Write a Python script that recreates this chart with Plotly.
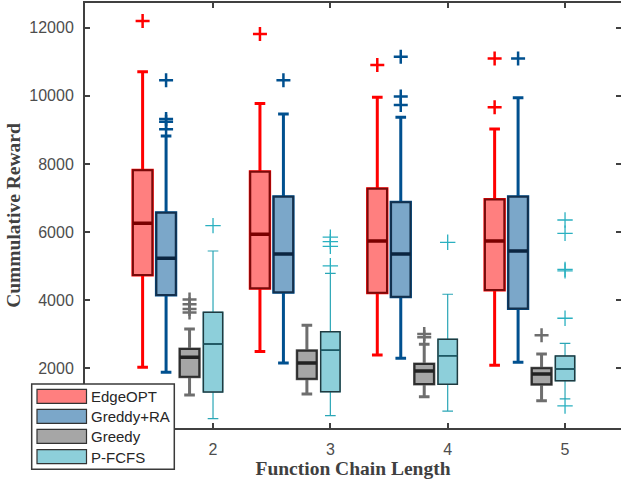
import plotly.graph_objects as go

# ---------------- data ----------------
chain_lengths = [2, 3, 4, 5]
series_names = ["EdgeOPT", "Greddy+RA", "Greedy", "P-FCFS"]
y_ticks = [2000, 4000, 6000, 8000, 10000, 12000]

edgeopt_low = [2030, 2490, 2390, 2090]
edgeopt_q1 = [4740, 4350, 4220, 4300]
edgeopt_med = [6260, 5940, 5740, 5740]
edgeopt_q3 = [7820, 7770, 7275, 6960]
edgeopt_high = [10710, 9780, 9960, 9030]
edgeopt_out = [[12200], [11820], [10910], [11100, 9665]]

ra_low = [1885, 2155, 2295, 2175]
ra_q1 = [4150, 4230, 4100, 3760]
ra_med = [5230, 5355, 5355, 5445]
ra_q3 = [6570, 7040, 6875, 7040]
ra_high = [8820, 9470, 9370, 9945]
ra_out = [[10460, 9320, 9240, 9020], [10460], [11150, 9980, 9730], [11100]]

greedy_low = [1215, 1245, 1165, 1050]
greedy_q1 = [1755, 1695, 1540, 1530]
greedy_med = [2325, 2155, 1920, 1835]
greedy_q3 = [2565, 2515, 2125, 2000]
greedy_high = [3155, 3265, 2705, 2420]
greedy_out = [[4020, 3880, 3740, 3640], [], [3005, 2915], [2970]]

pfcfs_low = [520, 610, 745, 1100]
pfcfs_q1 = [1305, 1315, 1530, 1635]
pfcfs_med = [2715, 2530, 2370, 1980]
pfcfs_q3 = [3645, 3075, 2850, 2360]
pfcfs_high = [5445, 4790, 4175, 2735]
pfcfs_out = [[6190], [5850, 5720, 5580, 5010], [5700], [6355, 5965, 4905, 4860, 3470, 895]]

offsets = [-0.6, -0.4, -0.2, 0.0]

# ---------------- styles ----------------
styles = [
    dict(fill="#FF7F7F", outline="#7A0A0A", whisker="#FF0000", median="#7A0000", wl=3, ol=2, ml=3.5, out="#FF0000", ow=2.5, osz=10),
    dict(fill="#7BA7C9", outline="#13304D", whisker="#00508F", median="#0B2540", wl=3, ol=2, ml=3.5, out="#00508F", ow=2.5, osz=10),
    dict(fill="#A6A6A6", outline="#2E2E2E", whisker="#6E6E6E", median="#222222", wl=3, ol=2, ml=3.5, out="#6E6E6E", ow=2.5, osz=10),
    dict(fill="#8DCFDA", outline="#1F3A40", whisker="#2AA6B6", median="#1B5A66", wl=1.2, ol=1.5, ml=1.5, out="#2AB0C0", ow=1.3, osz=11),
]

stats = [
    (edgeopt_low, edgeopt_q1, edgeopt_med, edgeopt_q3, edgeopt_high, edgeopt_out),
    (ra_low, ra_q1, ra_med, ra_q3, ra_high, ra_out),
    (greedy_low, greedy_q1, greedy_med, greedy_q3, greedy_high, greedy_out),
    (pfcfs_low, pfcfs_q1, pfcfs_med, pfcfs_q3, pfcfs_high, pfcfs_out),
]

BOXW = 0.165
fig = go.Figure()
for name, off, st, (lo, q1, med, q3, hi, outs) in zip(series_names, offsets, styles, stats):
    xs = [c + off for c in chain_lengths]
    # whiskers
    fig.add_trace(go.Box(x=xs, q1=q1, median=med, q3=q3, lowerfence=lo, upperfence=hi,
                         width=BOXW, whiskerwidth=0.55, fillcolor=st["fill"],
                         line=dict(color=st["whisker"], width=st["wl"]),
                         boxpoints=False, name=name, showlegend=False, hoverinfo="skip"))
    # box body
    fig.add_trace(go.Box(x=xs, q1=q1, median=med, q3=q3, lowerfence=q1, upperfence=q3,
                         width=BOXW, whiskerwidth=0, fillcolor=st["fill"],
                         line=dict(color=st["outline"], width=st["ol"]),
                         boxpoints=False, name=name, showlegend=False, hoverinfo="skip"))
    # median
    fig.add_trace(go.Box(x=xs, q1=med, median=med, q3=med, lowerfence=med, upperfence=med,
                         width=BOXW, whiskerwidth=0, fillcolor=st["median"],
                         line=dict(color=st["median"], width=st["ml"]),
                         boxpoints=False, name=name, showlegend=False, hoverinfo="skip"))
    # outliers
    ox, oy = [], []
    for x, o in zip(xs, outs):
        for v in o:
            ox.append(x)
            oy.append(v)
    fig.add_trace(go.Scatter(x=ox, y=oy, mode="markers", showlegend=False, hoverinfo="skip",
                             marker=dict(symbol="cross-thin", size=st["osz"],
                                         line=dict(color=st["out"], width=st["ow"]))))

# right-hand axis carrier (for mirrored inner ticks, no line)
fig.add_trace(go.Scatter(x=[None], y=[None], yaxis="y2", mode="markers",
                         showlegend=False, hoverinfo="skip"))

# ---------------- layout ----------------
W, H = 621, 484
L, R, T, B = 85, 621, 3, 428

def px(x):
    return (x - L) / (R - L)

def py(y):
    return (B - y) / (B - T)

axis_col = "#404040"
tick_font = dict(family="Liberation Sans, Arial", size=16, color="#4D4D4D")
title_font = dict(family="Liberation Serif, Times New Roman", size=19.5, color="#404040")

fig.update_layout(
    width=W, height=H,
    margin=dict(l=L, r=W - R, t=T, b=H - B, pad=0),
    paper_bgcolor="white", plot_bgcolor="white",
    boxmode="overlay",
    showlegend=False,
    xaxis=dict(range=[0.909, 5.477], tickvals=chain_lengths, ticktext=[str(c) for c in chain_lengths],
               ticks="inside", ticklen=5, tickwidth=2, tickcolor=axis_col,
               showline=True, linecolor=axis_col, linewidth=2, mirror="ticks",
               showgrid=False, zeroline=False, tickfont=tick_font, ticklabelstandoff=6,
               title=dict(text="<b>Function Chain Length</b>", font=title_font, standoff=4)),
    yaxis=dict(range=[247, 12728], tickvals=y_ticks, ticktext=[str(v) for v in y_ticks],
               ticks="inside", ticklen=5, tickwidth=2, tickcolor=axis_col,
               showline=True, linecolor=axis_col, linewidth=2, mirror=False,
               showgrid=False, zeroline=False, tickfont=tick_font, ticklabelstandoff=6,
               title=dict(text="<b>Cummulative Reward</b>", font=title_font, standoff=3)),
    yaxis2=dict(overlaying="y", side="right", range=[247, 12728], ticks="inside", ticklen=5, tickwidth=2,
                tickcolor=axis_col, tickvals=y_ticks,
                showticklabels=False, showline=False, showgrid=False, zeroline=False),
)

# ---------------- legend (drawn) ----------------
shapes = [dict(type="rect", xref="paper", yref="paper", layer="above",
               x0=px(31.7), x1=px(174.3), y0=py(469.3), y1=py(384),
               fillcolor="white", line=dict(color="#3A3A3A", width=1.5))]
annotations = []
row_tops = [389.3, 409.3, 429.3, 449.6]
for name, st, top in zip(series_names, styles, row_tops):
    shapes.append(dict(type="rect", xref="paper", yref="paper", layer="above",
                       x0=px(37), x1=px(86.5), y0=py(top + 14), y1=py(top),
                       fillcolor=st["fill"], line=dict(color="#333333", width=1.2)))
    annotations.append(dict(text=name, xref="paper", yref="paper", x=px(88.5), y=py(top + 7.5),
                            xanchor="left", yanchor="middle", showarrow=False,
                            font=dict(family="Liberation Sans, Arial", size=15, color="#262626")))
fig.update_layout(shapes=shapes, annotations=annotations)

fig.write_html("out.html")
